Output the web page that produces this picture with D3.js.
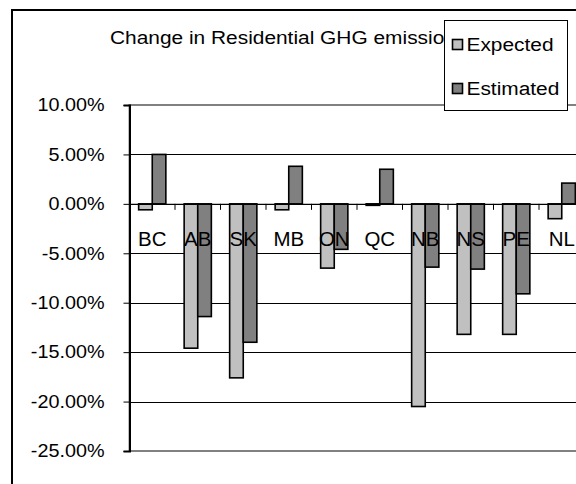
<!DOCTYPE html>
<html>
<head>
<meta charset="utf-8">
<script src="https://cdn.jsdelivr.net/npm/d3@7"></script>
<style>
  body { margin: 0; background: #fff; }
  text { font-family: "Liberation Sans", Arial, sans-serif; fill: #000; }
</style>
</head>
<body>
<svg id="chart" width="576" height="484"></svg>
<script>
'use strict';

// data
const provinces = ['BC', 'AB', 'SK', 'MB', 'ON', 'QC', 'NB', 'NS', 'PE', 'NL'];
const expected  = [-0.6, -14.6, -17.6, -0.6, -6.5, -0.15, -20.5, -13.2, -13.2, -1.5];
const estimated = [5.0, -11.4, -14.0, 3.8, -4.6, 3.5, -6.4, -6.6, -9.1, 2.1];
const yTicks    = [10, 5, 0, -5, -10, -15, -20, -25];
const seriesNames = ['Expected', 'Estimated'];
const seriesFill  = ['#c0c0c0', '#808080'];

const svg = d3.select('#chart');

// the original text is drawn a bit wide, stretch it horizontally
const SX = 1.13;
function stretch(sel, sx) {
  sel.each(function() {
    const t = d3.select(this);
    const x0 = +t.attr('x') || 0;
    t.attr('x', x0 / sx).attr('transform', `scale(${sx},1)`);
  });
}

// plot area
const plot = { left: 129.5, top: 105, width: 455, height: 346 };

// outer chart border
svg.append('rect')
    .attr('x', 12).attr('y', 10)
    .attr('width', 620).attr('height', 500)
    .attr('fill', '#fff')
    .attr('stroke', '#000')
    .attr('stroke-width', 2);

// title (partly hidden under the legend)
svg.append('text')
    .attr('x', 110).attr('y', 44)
    .style('font-size', '18.5px')
    .text('Change in Residential GHG emissions')
    .call(stretch, SX);

// scales
const x = d3.scaleBand()
            .domain(provinces)
            .range([plot.left, plot.left + plot.width]);

const y = d3.scaleLinear()
            .domain([-25, 10])
            .range([plot.top + plot.height, plot.top]);

const barW = 13.6;
const inner = d3.scaleBand()
                .domain(seriesNames)
                .range([0, barW * 2]);

// gridlines
svg.append('g')
    .selectAll('line')
    .data(yTicks.filter((d) => d !== 10 && d !== -25))
  .enter().append('line')
    .attr('x1', plot.left).attr('x2', plot.left + plot.width)
    .attr('y1', (d) => Math.round(y(d)) + 0.5)
    .attr('y2', (d) => Math.round(y(d)) + 0.5)
    .attr('stroke', '#000')
    .attr('stroke-width', 1);

// plot area border (grey)
svg.append('rect')
    .attr('x', plot.left).attr('y', plot.top)
    .attr('width', plot.width).attr('height', plot.height)
    .attr('fill', 'none')
    .attr('stroke', '#808080')
    .attr('stroke-width', 2);

// bars
const rows = provinces.map((p, i) => ({ p, vals: [expected[i], estimated[i]] }));

const groups = svg.selectAll('.bargroup')
    .data(rows)
  .enter().append('g')
    .attr('class', 'bargroup')
    .attr('transform', (d) => `translate(${x(d.p) + (x.bandwidth() - barW * 2) / 2},0)`);

groups.selectAll('rect')
    .data((d) => d.vals.map((v, k) => ({ v, k })))
  .enter().append('rect')
    .attr('x', (d) => inner(seriesNames[d.k]))
    .attr('width', barW)
    .attr('y', (d) => y(Math.max(0, d.v)))
    .attr('height', (d) => Math.abs(y(d.v) - y(0)))
    .attr('fill', (d) => seriesFill[d.k])
    .attr('stroke', '#000')
    .attr('stroke-width', 1.6);

// x axis at zero
const xAxis = d3.axisBottom(x)
                .tickSize(0)
                .tickFormat('');
svg.append('g')
    .attr('transform', `translate(0,${y(0)})`)
    .call(xAxis)
    .call((g) => g.select('.domain').attr('stroke', '#000').attr('stroke-width', 1.2));

// category tick marks between categories
svg.append('g')
    .selectAll('line')
    .data(provinces.slice(1))
  .enter().append('line')
    .attr('x1', (d) => x(d)).attr('x2', (d) => x(d))
    .attr('y1', y(0)).attr('y2', y(0) + 6)
    .attr('stroke', '#000')
    .attr('stroke-width', 1);

// category labels, below zero line
svg.append('g')
    .selectAll('text')
    .data(provinces)
  .enter().append('text')
    .attr('x', (d) => x(d) + x.bandwidth() / 2)
    .attr('y', y(0) + 42)
    .attr('text-anchor', 'middle')
    .style('font-size', '19.5px')
    .text((d) => d)
    .call(stretch, 1.05);

// y axis
const yAxis = d3.axisLeft(y)
                .tickValues(yTicks)
                .tickSize(6)
                .tickPadding(19)
                .tickFormat((d) => d.toFixed(2) + '%');

svg.append('g')
    .attr('transform', `translate(${plot.left},0)`)
    .call(yAxis)
    .call((g) => g.select('.domain').attr('stroke', '#000').attr('stroke-width', 2))
    .call((g) => g.selectAll('.tick line').attr('stroke', '#000'))
    .call((g) => g.selectAll('.tick text')
                  .style('font-size', '18px')
                  .style('font-family', '"Liberation Sans", Arial, sans-serif')
                  .attr('fill', '#000')
                  .call(stretch, 1.1));

// legend
const legend = svg.append('g').attr('transform', 'translate(444.5,20.5)');
legend.append('rect')
    .attr('width', 123).attr('height', 90)
    .attr('fill', '#fff')
    .attr('stroke', '#000')
    .attr('stroke-width', 1);

const legendY = d3.scalePoint()
                  .domain(seriesNames)
                  .range([24, 68]);

const items = legend.selectAll('.item')
    .data(seriesNames)
  .enter().append('g')
    .attr('class', 'item')
    .attr('transform', (d) => `translate(0,${legendY(d)})`);

items.append('rect')
    .attr('x', 8).attr('y', -5)
    .attr('width', 10).attr('height', 10)
    .attr('fill', (d, i) => seriesFill[i])
    .attr('stroke', '#000')
    .attr('stroke-width', 1.6);

items.append('text')
    .attr('x', 22)
    .attr('y', 6.5)
    .style('font-size', '18px')
    .text((d) => d)
    .call(stretch, 1.16);
</script>
</body>
</html>
